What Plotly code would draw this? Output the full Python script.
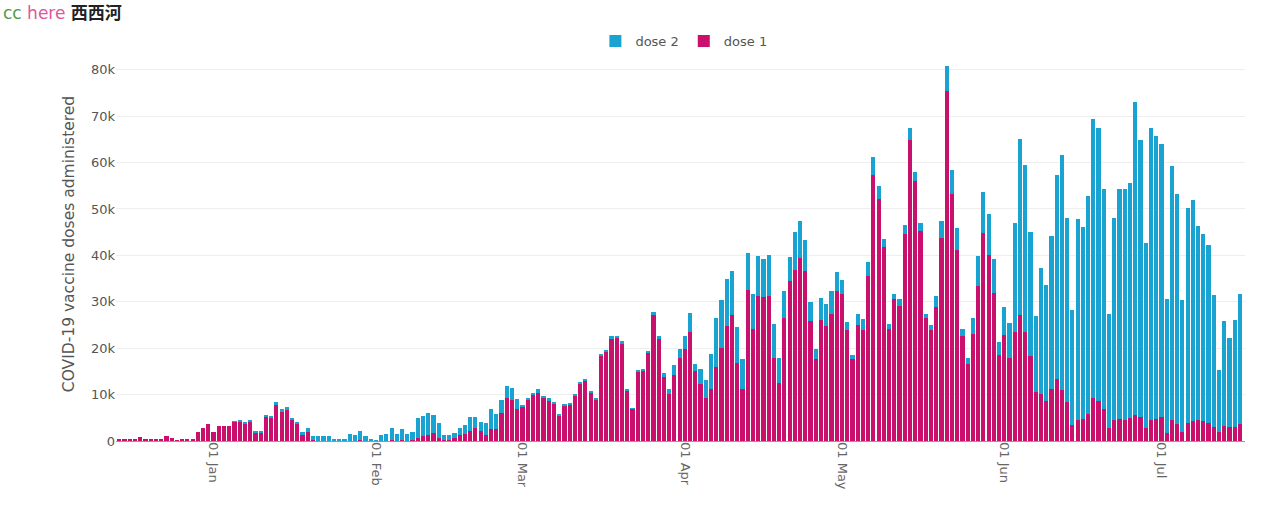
import plotly.graph_objects as go
import pandas as pd

start_date = "2020-12-14"

dose1 = [250, 250, 300, 400, 800, 400, 400, 400, 400, 1000,
         600, 50, 300, 300, 300, 1900, 2700, 3600, 1900, 3200,
         3200, 3200, 4200, 4200, 3800, 4100, 1900, 1900, 5200, 5000,
         7800, 6300, 6700, 4600, 3700, 1300, 1900, 200, 100, 100,
         100, 50, 50, 50, 100, 100, 200, 100, 50, 0,
         100, 100, 200, 100, 300, 100, 200, 700, 1000, 1400,
         1800, 700, 300, 300, 700, 1400, 1600, 2100, 2800, 2100,
         1400, 2500, 2500, 6100, 9300, 8900, 6800, 7400, 9000, 10000,
         10400, 9300, 8800, 8100, 5500, 7600, 7800, 9900, 12200, 12900,
         10400, 9000, 18400, 19200, 22000, 22200, 21100, 10800, 6900, 14900,
         15000, 19000, 27100, 22000, 13800, 10200, 14300, 17800, 19900, 23400,
         15000, 12200, 9200, 11300, 16000, 20100, 24700, 27100, 16800, 11200,
         32500, 24200, 31200, 31000, 31200, 17900, 12500, 26400, 34400, 36900,
         39400, 36600, 25800, 17600, 26100, 24700, 27400, 32300, 31700, 24000,
         17700, 25100, 23900, 35500, 57400, 52200, 41700, 24200, 30700, 29000,
         44700, 64900, 56100, 45300, 26500, 23900, 28900, 43800, 75500, 53300,
         41100, 22600, 16700, 23100, 33500, 44800, 40000, 31800, 18600, 22800,
         17800, 23400, 27200, 23500, 18400, 10500, 10200, 8600, 11100, 13400,
         10900, 8400, 3500, 4600, 4800, 5900, 9300, 8600, 6800, 2800,
         4600, 4800, 4600, 5000, 5700, 5200, 2800, 4600, 4800, 5200,
         1800, 4500, 3600, 1900, 3800, 4300, 4500, 4300, 3900, 3000,
         2000, 3200, 3000, 3000, 3600]

dose2 = [0, 0, 0, 0, 0, 0, 0, 0, 0, 0,
         0, 0, 0, 0, 0, 0, 0, 0, 0, 0,
         0, 0, 100, 300, 200, 400, 100, 100, 500, 200,
         700, 500, 600, 200, 300, 700, 800, 800, 900, 900,
         900, 250, 450, 450, 1500, 1150, 2050, 900, 250, 100,
         1150, 1500, 2600, 1400, 2200, 1400, 1700, 4300, 4300, 4700,
         3900, 3200, 1100, 950, 1050, 1400, 1900, 3000, 2300, 2000,
         2400, 4400, 3400, 2800, 2500, 2600, 2300, 200, 300, 400,
         700, 500, 400, 300, 300, 300, 200, 300, 500, 500,
         300, 100, 400, 500, 600, 500, 400, 300, 100, 500,
         500, 500, 700, 700, 900, 1000, 2000, 2100, 2700, 4100,
         1500, 3400, 3900, 7500, 10400, 10200, 10300, 9600, 7700, 6500,
         8000, 7500, 8600, 8200, 8800, 7400, 5400, 5900, 5300, 8100,
         8100, 6800, 4200, 2300, 4700, 4800, 4900, 4100, 3100, 1700,
         900, 2300, 2300, 3100, 3800, 2800, 1900, 1100, 900, 1500,
         1900, 2500, 1800, 1700, 900, 1000, 2400, 3500, 5200, 5000,
         4700, 1600, 1100, 3400, 6300, 8900, 9000, 7400, 2700, 6100,
         7600, 23600, 37900, 35900, 26600, 16500, 27100, 25100, 33000, 44000,
         50700, 39700, 24800, 43300, 41300, 46900, 60100, 58800, 47600, 24600,
         43500, 49400, 49800, 50600, 67300, 59700, 39900, 62800, 61000, 58700,
         28800, 54700, 49700, 28400, 46400, 47600, 41900, 40200, 38300, 28400,
         13400, 22600, 19300, 23000, 28100]

dates = pd.date_range(start_date, periods=len(dose1), freq="D")

color_dose1 = "#c9106d"
color_dose2 = "#18a3d2"
font_main = "DejaVu Sans, Verdana, sans-serif"

fig = go.Figure()
fig.add_trace(go.Bar(x=dates, y=dose1, name="dose 1", marker_color=color_dose1,
                     marker_line_width=0))
fig.add_trace(go.Bar(x=dates, y=dose2, name="dose 2", marker_color=color_dose2,
                     marker_line_width=0))

fig.update_layout(
    width=1280, height=511,
    barmode="stack", bargap=0.2,
    plot_bgcolor="white", paper_bgcolor="white",
    margin=dict(l=116, r=35, t=47, b=70),
    font=dict(family=font_main, color="#555"),
    legend=dict(orientation="h", x=0.503, xanchor="center", y=1.015, yanchor="middle",
                traceorder="reversed", font=dict(size=13, color="#555")),
    xaxis=dict(type="date", range=["2020-12-13 09:00", "2021-07-16 23:00"],
               dtick="M1", tick0="2021-01-01", tickformat="%d %b", tickangle=90,
               showgrid=False, tickfont=dict(size=13, color="#666"),
               showline=False, ticks=""),
    yaxis=dict(range=[0, 84900], dtick=10000, tickformat="~s",
               gridcolor="#eeeeee", zeroline=True, zerolinecolor="#999",
               zerolinewidth=1, tickfont=dict(size=13, color="#555"),
               title=dict(text="COVID-19 vaccine doses administered",
                          font=dict(size=15.5, color="#555"), standoff=12)),
    annotations=[dict(
        xref="paper", yref="paper", x=-0.1018, y=1.116, xanchor="left", yanchor="top",
        showarrow=False,
        text="<span style='color:#4f9a4a'>cc</span> <span style='color:#e0559c'>here</span> "
             "<span style='color:#222'><b>西西河</b></span>",
        font=dict(size=17, family="DejaVu Sans, Noto Sans CJK SC, sans-serif"))],
)

fig.write_html("out.html", config={"displayModeBar": False},
               post_script="document.body.style.margin='0px';")
